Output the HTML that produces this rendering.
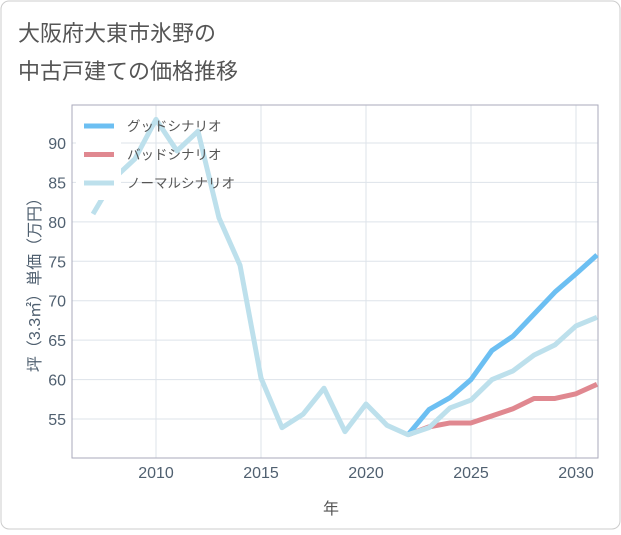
<!DOCTYPE html>
<html><head><meta charset="utf-8"><style>
body{margin:0;background:#fff;font-family:"Liberation Sans","Noto Sans CJK JP",sans-serif;}
svg text{font-family:"Liberation Sans","Noto Sans CJK JP",sans-serif;}
</style></head><body>
<svg width="621" height="530" id="chart">
<rect x="1" y="1" width="619" height="528" rx="8" fill="#fff" stroke="#ccc"/>
<text x="18" y="41" font-size="22" fill="#555">大阪府大東市氷野の</text>
<text x="18" y="79" font-size="22" fill="#555">中古戸建ての価格推移</text>
<g id="grid"></g>
<rect x="72" y="105" width="526" height="353" fill="none" stroke="#aab"/>
<g id="series"></g>
<g id="legend"></g>
<text x="331" y="514" font-size="16" fill="#555" text-anchor="middle">年</text>
<text transform="translate(40,281) rotate(-90)" font-size="16" fill="#506070" text-anchor="middle">坪（3.3㎡）単価（万円）</text>
</svg>
<script>
const normalYears=[2007,2008,2009,2010,2011,2012,2013,2014,2015,2016,2017,2018,2019,2020,2021,2022,2023,2024,2025,2026,2027,2028,2029,2030,2031];
const normalVals=[81,85.5,88,93,89,91.5,80.5,74.5,60.2,53.9,55.6,58.9,53.4,56.9,54.2,53,53.9,56.4,57.4,60,61.1,63.1,64.4,66.8,67.9];
const futureYears=[2022,2023,2024,2025,2026,2027,2028,2029,2030,2031];
const goodVals=[53,56.2,57.7,60,63.7,65.5,68.3,71.1,73.4,75.8];
const badVals=[53,54,54.5,54.5,55.4,56.3,57.6,57.6,58.2,59.4];
const xTicks=[2010,2015,2020,2025,2030];
const yTicks=[55,60,65,70,75,80,85,90];
const legendLabels=["グッドシナリオ","バッドシナリオ","ノーマルシナリオ"];
const legendColors=["#6cbff2","#e08890","#bde0ec"];
const NS="http://www.w3.org/2000/svg";
const X=y=>72+(y-2006)*21, Y=v=>419-(v-55)*7.886;
function mk(t,a,p){const e=document.createElementNS(NS,t);for(const k in a)e.setAttribute(k,a[k]);p.appendChild(e);return e;}
const grid=document.getElementById('grid');
xTicks.forEach(t=>{
 const l=mk('line',{x1:X(t),x2:X(t),y1:105,y2:458,stroke:'#dde3ea'},grid);
 
 
 const tx=mk('text',{x:X(t),y:478,'font-size':16,fill:'#506070','text-anchor':'middle'},grid);tx.textContent=t;
 
 
});
yTicks.forEach(t=>{
 const l=mk('line',{x1:72,x2:598,y1:Y(t),y2:Y(t),stroke:'#dde3ea'},grid);
 
 
 const tx=mk('text',{x:66,y:Y(t)+6,'font-size':16,fill:'#506070','text-anchor':'end'},grid);tx.textContent=t;
 
 
});
const s=document.getElementById('series');
function line(xs,vs,c,n){const p=mk('polyline',{points:xs.map((x,i)=>X(x)+','+Y(vs[i])).join(' '),fill:'none',stroke:c,'stroke-width':5,'stroke-linejoin':'round'},s);
 
 }
line(futureYears,badVals,legendColors[1],'bad-scenario-line');
line(futureYears,goodVals,legendColors[0],'good-scenario-line');
line(normalYears,normalVals,legendColors[2],'normal-scenario-line');
const lg=document.getElementById('legend');
const bg=mk('rect',{x:76,y:108,width:45,height:92,fill:'#fff','fill-opacity':1},lg);


legendLabels.forEach((t,i)=>{
 const y=126+i*28.5;
 const g=mk('g',{},lg);
 
 
 mk('line',{x1:84,x2:114,y1:y,y2:y,stroke:legendColors[i],'stroke-width':5},g);
 const tx=mk('text',{x:127,y:y+5,'font-size':13.5,fill:'#555'},g);tx.textContent=t;
});
</script>
</body></html>
